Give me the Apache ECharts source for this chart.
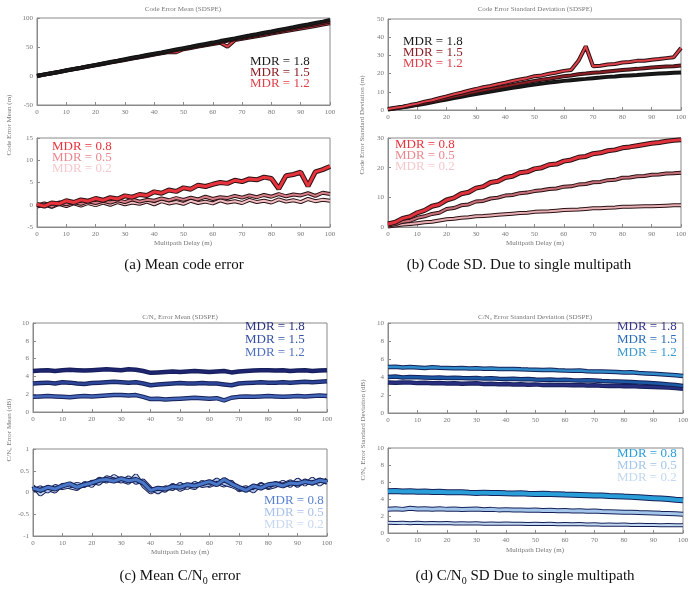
<!DOCTYPE html>
<html>
<head>
<meta charset="utf-8">
<script src="https://cdn.jsdelivr.net/npm/echarts@6/dist/echarts.min.js"></script>
<style>
  html,body{margin:0;padding:0;background:#fff;}
  #chart{width:696px;height:593px;}
</style>
</head>
<body>
<div id="chart"></div>
<script>
// multipath delay (m)
var delay = [0,2.5,5,7.5,10,12.5,15,17.5,20,22.5,25,27.5,30,32.5,35,37.5,40,42.5,45,47.5,50,52.5,55,57.5,60,62.5,65,67.5,70,72.5,75,77.5,80,82.5,85,87.5,90,92.5,95,97.5,100];

// (a) code error mean, large MDR
var codeMean18 = [0.3,2.6,4.9,7.1,9.8,12.1,14.3,16.9,19.2,21.7,24.1,26.3,28.9,31.4,33.6,36.2,38.5,40.7,43.3,45.8,48.1,50.4,52.9,55.3,57.6,60.2,62.5,64.8,67.4,69.7,72.1,74.6,76.8,79.3,81.7,84.1,86.6,88.9,91.4,93.8,96.5];
var codeMean15 = [0.1,2.5,4.7,7.0,9.5,11.8,14.1,16.5,18.8,21.2,23.5,25.9,28.2,30.6,32.9,35.3,37.6,39.9,42.3,44.6,46.9,49.3,51.6,54.0,56.2,58.6,60.9,63.3,65.6,67.9,70.3,72.6,74.9,77.3,79.6,81.9,84.3,86.6,88.9,91.3,93.6];
var codeMean12 = [0.0,2.4,4.6,6.9,9.3,11.6,13.8,16.2,18.5,20.8,23.1,25.4,27.7,30.0,32.3,34.6,36.9,39.2,41.5,41.0,46.1,48.3,50.6,52.9,55.1,57.4,50.5,61.8,64.1,66.3,68.6,70.8,73.1,75.3,77.5,79.7,81.9,84.1,86.3,88.6,90.8];
// (a) code error mean, small MDR
var codeMean08 = [0.1,-0.3,0.4,0.2,0.9,0.5,1.1,0.8,1.4,1.0,1.6,1.3,2.0,1.7,2.3,2.1,2.9,2.6,3.3,3.0,3.8,3.5,4.4,4.1,4.6,5.0,4.8,5.5,5.2,5.8,5.6,6.2,5.9,3.6,6.5,6.8,7.3,4.2,7.4,7.9,8.6];
var codeMean05 = [-0.2,0.3,-0.4,0.5,0.1,0.6,0.2,0.8,0.4,0.9,0.5,1.0,0.6,1.2,0.7,1.1,0.9,1.4,1.0,1.5,1.1,1.6,1.2,1.8,1.3,1.7,1.5,2.0,1.6,2.1,1.7,2.2,1.8,2.4,1.9,2.3,2.1,2.6,2.0,2.7,2.4];
var codeMean02 = [-0.4,0.1,-0.5,0.2,-0.3,0.3,-0.2,0.4,-0.1,0.5,0.0,0.6,0.1,0.5,0.2,0.7,0.1,0.8,0.3,0.6,0.2,0.9,0.4,0.7,0.3,1.0,0.5,0.8,0.4,1.1,0.6,0.9,0.5,1.2,0.7,1.0,0.6,1.3,0.8,1.1,0.9];

// (b) code error SD, large MDR
var codeSd18 = [0.3,0.9,1.5,2.1,2.8,3.4,4.3,5.0,5.8,6.6,7.3,8.1,8.8,9.5,10.2,10.9,11.5,12.2,12.8,13.4,14.0,14.5,15.1,15.5,16.0,16.4,16.8,17.1,17.5,17.8,18.2,18.4,18.8,19.0,19.2,19.5,19.8,20.0,20.2,20.4,20.6];
var codeSd15 = [0.4,1.0,1.6,2.3,3.0,3.9,4.8,5.6,6.5,7.4,8.2,9.2,10.0,10.8,11.5,12.3,13.0,13.8,14.5,15.3,16.0,16.6,17.2,17.9,18.5,19.0,19.6,20.0,20.5,20.8,21.2,21.6,22.0,22.3,22.6,23.0,23.3,23.6,23.9,24.1,24.4];
var codeSd12 = [0.5,1.2,1.8,2.7,3.5,4.6,5.4,6.5,7.5,8.6,9.5,10.6,11.5,12.5,13.2,14.2,15.0,15.9,16.8,17.5,18.6,19.0,19.9,20.6,21.5,22.0,27.0,35.0,24.0,24.3,25.0,25.3,26.1,26.4,27.0,27.1,27.6,28.0,28.5,29.0,34.0];
// (b) code error SD, small MDR
var codeSd08 = [1.0,1.6,2.9,3.5,4.8,5.6,7.0,7.6,9.1,9.8,11.2,11.7,13.1,13.6,15.0,15.4,16.7,17.1,18.3,18.6,19.6,20.0,21.0,21.2,22.2,22.6,23.5,23.8,24.7,25.0,25.7,26.0,26.7,27.0,27.4,27.8,28.2,28.5,28.9,29.2,29.4];
var codeSd05 = [0.5,0.9,1.8,2.1,3.1,3.6,4.4,4.8,6.1,6.4,7.3,7.6,8.6,8.8,9.6,9.9,10.6,10.8,11.4,11.6,12.1,12.4,12.8,13.0,13.6,13.7,14.3,14.5,15.1,15.2,15.8,15.9,16.6,16.7,17.1,17.2,17.6,17.7,18.0,18.1,18.3];
var codeSd02 = [0.2,0.5,0.8,1.0,1.3,1.6,1.8,2.2,2.6,2.8,3.1,3.3,3.6,3.7,3.9,4.1,4.3,4.5,4.7,4.8,5.1,5.2,5.3,5.5,5.7,5.8,5.9,6.1,6.3,6.3,6.5,6.6,6.8,6.8,6.9,7.0,7.0,7.1,7.2,7.3,7.3];

// (c) C/N0 error mean, large MDR
var cnMean18 = [4.6,4.65,4.7,4.6,4.7,4.75,4.7,4.65,4.7,4.75,4.8,4.75,4.7,4.8,4.75,4.6,4.4,4.45,4.5,4.55,4.5,4.55,4.6,4.55,4.5,4.55,4.6,4.45,4.55,4.6,4.65,4.7,4.7,4.65,4.7,4.6,4.65,4.7,4.6,4.65,4.7];
var cnMean15 = [3.2,3.25,3.3,3.2,3.35,3.3,3.2,3.15,3.25,3.3,3.35,3.4,3.35,3.3,3.35,3.2,3.0,3.1,3.15,3.2,3.25,3.2,3.2,3.25,3.2,3.2,3.1,3.0,3.2,3.25,3.3,3.35,3.3,3.3,3.35,3.3,3.35,3.4,3.35,3.4,3.45];
var cnMean12 = [1.7,1.75,1.8,1.75,1.7,1.65,1.75,1.8,1.75,1.8,1.85,1.9,1.9,1.85,1.9,1.7,1.45,1.5,1.4,1.45,1.5,1.55,1.6,1.55,1.5,1.55,1.3,1.6,1.7,1.75,1.7,1.75,1.8,1.75,1.7,1.75,1.8,1.75,1.8,1.85,1.8];
// (c) C/N0 error mean, small MDR
var cnMean08 = [0.1,0.05,0.12,0.08,0.15,0.2,0.12,0.18,0.22,0.28,0.3,0.26,0.32,0.27,0.3,0.22,0.05,0.1,0.08,0.14,0.12,0.18,0.15,0.2,0.25,0.18,0.3,0.2,0.12,0.05,0.15,0.1,0.18,0.2,0.15,0.22,0.2,0.25,0.22,0.28,0.25];
var cnMean05 = [0.05,0.12,0.02,0.15,0.1,0.14,0.2,0.15,0.25,0.2,0.35,0.3,0.25,0.35,0.22,0.28,0.1,0.0,0.12,0.08,0.2,0.1,0.22,0.15,0.18,0.3,0.2,0.15,0.08,0.12,0.02,0.18,0.12,0.22,0.18,0.26,0.15,0.28,0.2,0.3,0.22];
var cnMean02 = [0.15,-0.05,0.08,0.02,0.18,0.12,0.08,0.22,0.15,0.32,0.25,0.38,0.28,0.22,0.4,0.15,0.0,0.08,0.04,0.18,0.06,0.14,0.1,0.25,0.15,0.22,0.16,0.25,0.05,0.1,0.08,0.2,0.1,0.15,0.25,0.15,0.3,0.18,0.32,0.18,0.3];

// (d) C/N0 error SD, large MDR
var cnSd18 = [3.4,3.35,3.4,3.38,3.32,3.35,3.3,3.32,3.28,3.3,3.25,3.28,3.3,3.22,3.25,3.2,3.22,3.18,3.2,3.15,3.18,3.12,3.15,3.1,3.12,3.08,3.1,3.05,3.08,3.02,3.0,3.02,2.98,3.0,2.95,2.92,2.9,2.85,2.82,2.78,2.7];
var cnSd15 = [4.0,4.05,3.95,4.0,3.98,3.95,3.92,3.95,3.9,3.92,3.88,3.85,3.88,3.82,3.85,3.8,3.78,3.8,3.75,3.78,3.72,3.7,3.72,3.68,3.7,3.65,3.62,3.65,3.6,3.55,3.52,3.5,3.48,3.45,3.4,3.35,3.3,3.25,3.18,3.1,3.0];
var cnSd12 = [5.1,5.15,5.05,5.1,5.05,5.0,5.08,5.02,5.0,4.98,5.0,4.95,4.98,4.92,4.95,4.9,4.88,4.9,4.85,4.82,4.8,4.78,4.8,4.75,4.72,4.7,4.72,4.65,4.62,4.6,4.58,4.55,4.5,4.52,4.45,4.4,4.35,4.3,4.25,4.2,4.1];
// (d) C/N0 error SD, small MDR
var cnSd08 = [4.9,4.95,4.88,4.92,4.85,4.88,4.82,4.85,4.8,4.78,4.8,4.75,4.72,4.75,4.7,4.72,4.68,4.65,4.68,4.62,4.6,4.62,4.58,4.55,4.52,4.5,4.48,4.45,4.42,4.4,4.35,4.32,4.28,4.25,4.2,4.15,4.1,4.05,4.0,3.92,3.85];
var cnSd05 = [2.8,2.85,2.78,2.9,2.82,2.85,2.8,2.84,2.78,2.82,2.76,2.8,2.82,2.75,2.78,2.72,2.75,2.7,2.72,2.68,2.7,2.66,2.68,2.62,2.65,2.6,2.62,2.56,2.58,2.52,2.5,2.48,2.45,2.44,2.4,2.38,2.35,2.32,2.3,2.26,2.2];
var cnSd02 = [1.2,1.18,1.22,1.15,1.2,1.16,1.18,1.14,1.17,1.12,1.15,1.12,1.14,1.1,1.13,1.1,1.12,1.08,1.1,1.06,1.1,1.05,1.08,1.04,1.06,1.02,1.05,1.0,1.03,0.98,1.0,0.97,0.99,0.95,0.97,0.94,0.95,0.92,0.94,0.9,0.9];

var chart = echarts.init(document.getElementById('chart'));
var serif = 'Liberation Serif, Times New Roman, serif';

// plot boxes [left, top, width, height], y range
var boxes = [
  {l:37,  t:18,  w:293, h:87, min:-50, max:100, step:50},
  {l:37,  t:138, w:293, h:89, min:-5,  max:15,  step:5},
  {l:388, t:19,  w:293, h:91, min:0,   max:50,  step:10},
  {l:388, t:138, w:293, h:89, min:0,   max:30,  step:10},
  {l:33,  t:323, w:294, h:89, min:0,   max:10,  step:2},
  {l:33,  t:449, w:294, h:87, min:-1,  max:1,   step:0.5},
  {l:388, t:323, w:295, h:90, min:0,   max:10,  step:2},
  {l:388, t:448, w:295, h:85, min:0,   max:10,  step:2}
];

var grids=[], xAxes=[], yAxes=[];
boxes.forEach(function(b, i){
  grids.push({left:b.l, top:b.t, width:b.w, height:b.h, show:true, borderColor:'#8a8a8a', borderWidth:1});
  xAxes.push({
    type:'value', gridIndex:i, min:0, max:100, interval:10,
    axisLine:{onZero:false, lineStyle:{color:'#8a8a8a'}},
    axisTick:{inside:true, length:3, lineStyle:{color:'#8a8a8a'}},
    axisLabel:{fontSize:7, color:'#777', fontFamily:serif, margin:4},
    splitLine:{show:false}
  });
  yAxes.push({
    type:'value', gridIndex:i, min:b.min, max:b.max, interval:b.step,
    axisLine:{show:true, onZero:false, lineStyle:{color:'#8a8a8a'}},
    axisTick:{show:true, inside:true, length:3, lineStyle:{color:'#8a8a8a'}},
    axisLabel:{fontSize:7, color:'#777', fontFamily:serif, margin:4},
    splitLine:{show:false}
  });
});

function pts(ys){
  return delay.map(function(x, k){ return [x, ys[k]]; });
}
var series=[];
function band(idx, ys, color, edge, w){
  series.push({type:'line', xAxisIndex:idx, yAxisIndex:idx, data:pts(ys), showSymbol:false, silent:true,
    lineStyle:{color:edge, width:w+2}});
  series.push({type:'line', xAxisIndex:idx, yAxisIndex:idx, data:pts(ys), showSymbol:false, silent:true,
    lineStyle:{color:color, width:w}});
}

var redEdge = '#2a1214', blueEdge = '#152058';
band(0, codeMean12, '#e0404a', redEdge, 2);
band(0, codeMean15, '#8a1e24', redEdge, 2);
band(0, codeMean18, '#1a1a1a', '#111', 2);
band(1, codeMean02, '#f2c0c4', redEdge, 2);
band(1, codeMean05, '#d8808a', redEdge, 2);
band(1, codeMean08, '#e8323c', redEdge, 3);
band(2, codeSd18, '#1a1a1a', '#111', 2);
band(2, codeSd15, '#8a1e24', redEdge, 2);
band(2, codeSd12, '#e0404a', redEdge, 2);
band(3, codeSd02, '#e8b0b4', redEdge, 2);
band(3, codeSd05, '#c8707a', redEdge, 2);
band(3, codeSd08, '#e0323c', redEdge, 3);
band(4, cnMean18, '#1e2470', blueEdge, 2.5);
band(4, cnMean15, '#2c4596', blueEdge, 2.5);
band(4, cnMean12, '#4466b8', blueEdge, 2.5);
band(5, cnMean02, '#c8d8f2', blueEdge, 2);
band(5, cnMean05, '#a8c2ec', blueEdge, 2);
band(5, cnMean08, '#4a78c8', blueEdge, 3);
band(6, cnSd18, '#2a2e80', blueEdge, 2.5);
band(6, cnSd15, '#1d5aa6', blueEdge, 2.5);
band(6, cnSd12, '#2f8cc8', blueEdge, 2.5);
band(7, cnSd02, '#c2d8f0', blueEdge, 2);
band(7, cnSd05, '#a4c6ea', blueEdge, 3);
band(7, cnSd08, '#2a9ed8', blueEdge, 4);

var graphics = [];
function txt(x, y, s, size, color, align, rot){
  graphics.push({type:'text', x:x, y:y, rotation:rot||0, silent:true,
    style:{text:s, fontSize:size, fontFamily:serif, fill:color, align:align||'center', verticalAlign:'middle'}});
}
// small plot titles
txt(183, 9, 'Code Error Mean (SDSPE)', 7, '#777');
txt(535, 9, 'Code Error Standard Deviation (SDSPE)', 7, '#777');
txt(180, 317, 'C/N\u2080 Error Mean (SDSPE)', 7, '#777');
txt(535, 317, 'C/N\u2080 Error Standard Deviation (SDSPE)', 7, '#777');
// axis names
txt(9, 125, 'Code Error Mean (m)', 7, '#777', 'center', Math.PI/2);
txt(362, 125, 'Code Error Standard Deviation (m)', 7, '#777', 'center', Math.PI/2);
txt(9, 430, 'C/N\u2080 Error Mean (dB)', 7, '#777', 'center', Math.PI/2);
txt(363, 430, 'C/N\u2080 Error Standard Deviation (dB)', 7, '#777', 'center', Math.PI/2);
txt(183, 243, 'Multipath Delay (m)', 7, '#777');
txt(535, 243, 'Multipath Delay (m)', 7, '#777');
txt(180, 552, 'Multipath Delay (m)', 7, '#777');
txt(535, 550, 'Multipath Delay (m)', 7, '#777');
// MDR labels
txt(250, 62, 'MDR = 1.8', 13, '#1a1a1a', 'left');
txt(250, 73, 'MDR = 1.5', 13, '#8a1e24', 'left');
txt(250, 84, 'MDR = 1.2', 13, '#e0404a', 'left');
txt(52, 147, 'MDR = 0.8', 13, '#e8323c', 'left');
txt(52, 158, 'MDR = 0.5', 13, '#e8888e', 'left');
txt(52, 169, 'MDR = 0.2', 13, '#f6c8cc', 'left');
txt(403, 42, 'MDR = 1.8', 13, '#1a1a1a', 'left');
txt(403, 53, 'MDR = 1.5', 13, '#8a1e24', 'left');
txt(403, 64, 'MDR = 1.2', 13, '#e0404a', 'left');
txt(395, 145, 'MDR = 0.8', 13, '#e8323c', 'left');
txt(395, 156, 'MDR = 0.5', 13, '#e8888e', 'left');
txt(395, 167, 'MDR = 0.2', 13, '#f6c8cc', 'left');
txt(245, 327, 'MDR = 1.8', 13, '#2a3280', 'left');
txt(245, 340, 'MDR = 1.5', 13, '#3450a4', 'left');
txt(245, 353, 'MDR = 1.2', 13, '#5070c0', 'left');
txt(264, 501, 'MDR = 0.8', 13, '#5a82d0', 'left');
txt(264, 513, 'MDR = 0.5', 13, '#a8c2ec', 'left');
txt(264, 525, 'MDR = 0.2', 13, '#c8d8f2', 'left');
txt(617, 327, 'MDR = 1.8', 13, '#34348a', 'left');
txt(617, 340, 'MDR = 1.5', 13, '#2a6cb6', 'left');
txt(617, 353, 'MDR = 1.2', 13, '#3a98d0', 'left');
txt(617, 454, 'MDR = 0.8', 13, '#2a9ed8', 'left');
txt(617, 466, 'MDR = 0.5', 13, '#a4c6ea', 'left');
txt(617, 478, 'MDR = 0.2', 13, '#c2d8f0', 'left');
// captions
txt(184, 265, '(a) Mean code error', 15, '#111');
txt(519, 265, '(b) Code SD. Due to single multipath', 15, '#111');
function capSub(x, y, pre, post){
  graphics.push({type:'text', x:x, y:y, silent:true,
    style:{text:'{m|' + pre + '}{s|0}{m|' + post + '}', align:'center', verticalAlign:'middle',
      rich:{
        m:{fontSize:15, fontFamily:serif, fill:'#111', lineHeight:20},
        s:{fontSize:10, fontFamily:serif, fill:'#111', lineHeight:10, verticalAlign:'bottom'}
      }}});
}
capSub(180, 576, '(c) Mean C/N', ' error');
capSub(525, 576, '(d) C/N', ' SD Due to single multipath');

chart.setOption({
  animation:false,
  grid:grids,
  xAxis:xAxes,
  yAxis:yAxes,
  series:series,
  graphic:graphics
});
</script>
</body>
</html>
